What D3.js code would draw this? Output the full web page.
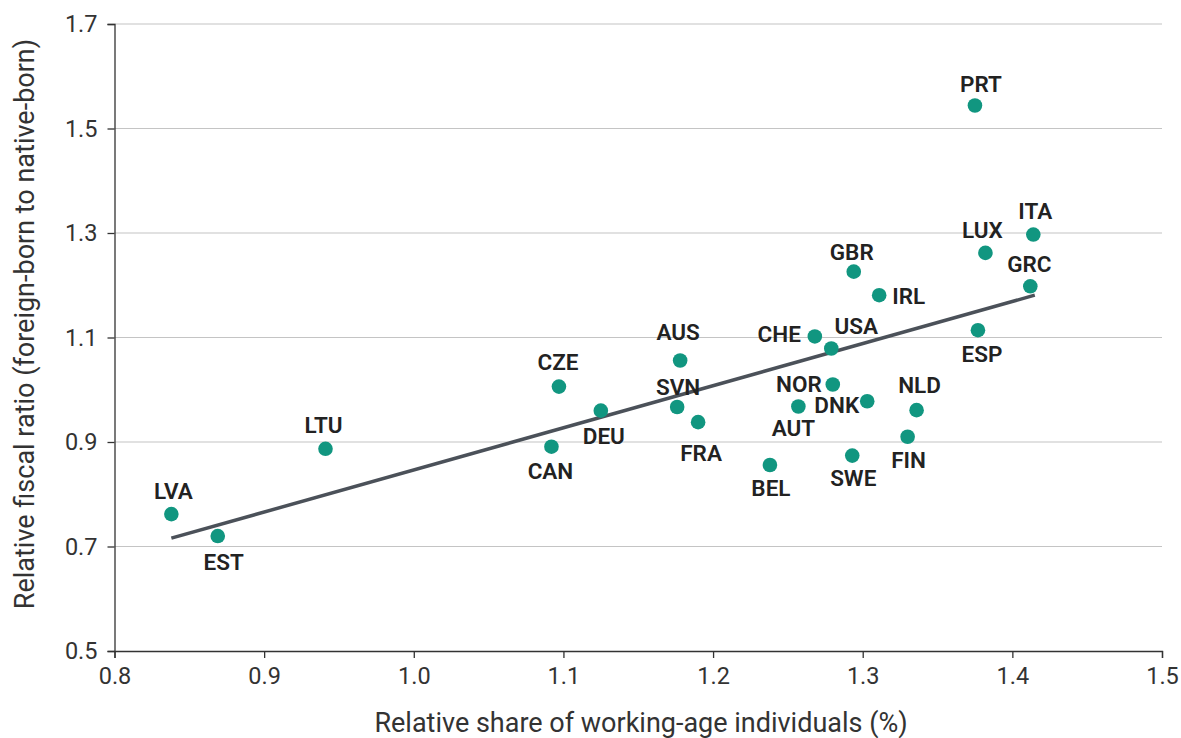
<!DOCTYPE html>
<html>
<head>
<meta charset="utf-8">
<script src="https://cdn.jsdelivr.net/npm/d3@7"></script>
<style>
	body { margin: 0; background: #fff; }
	svg { display: block; font-family: Roboto, "Noto Sans", sans-serif; }
	.tick text { fill: #333; font-size: 23.5px; }
	.lbl { fill: #222; font-size: 22.5px; font-weight: 600; }
</style>
</head>
<body>
<svg id="chart" width="1181" height="738"></svg>
<script>
//countries
var codes = ["LVA","EST","LTU","CZE","DEU","CAN","AUS","SVN","FRA","BEL","CHE","USA","GBR","IRL","NOR","DNK","AUT","NLD","FIN","SWE","ESP","LUX","ITA","GRC","PRT"];
var workShare = [0.838,0.869,0.941,1.097,1.125,1.092,1.178,1.176,1.190,1.238,1.268,1.279,1.294,1.311,1.280,1.303,1.257,1.336,1.330,1.293,1.377,1.382,1.414,1.412,1.375];
var fiscalRatio = [0.762,0.720,0.887,1.006,0.960,0.891,1.056,0.967,0.938,0.856,1.102,1.079,1.226,1.181,1.010,0.978,0.968,0.961,0.910,0.874,1.114,1.262,1.297,1.198,1.544];

//trend line end points
var trendX = [0.838, 1.415];
var trendY = [0.716, 1.181];

//tick labels
var xTicks = [0.8,0.9,1.0,1.1,1.2,1.3,1.4,1.5];
var yTicks = [0.5,0.7,0.9,1.1,1.3,1.5,1.7];

//label placement around each dot
var labelPos = {
	LVA:{dx:2,dy:-15,a:"middle"}, EST:{dx:6,dy:34,a:"middle"}, LTU:{dx:-2,dy:-16,a:"middle"},
	CZE:{dx:-1,dy:-17,a:"middle"}, DEU:{dx:3,dy:33,a:"middle"}, CAN:{dx:-1,dy:32,a:"middle"},
	AUS:{dx:-2,dy:-20,a:"middle"}, SVN:{dx:1,dy:-12,a:"middle"}, FRA:{dx:3,dy:39,a:"middle"},
	BEL:{dx:1,dy:31,a:"middle"}, CHE:{dx:-14,dy:6,a:"end"}, USA:{dx:25,dy:-14,a:"middle"},
	GBR:{dx:-2,dy:-12,a:"middle"}, IRL:{dx:13,dy:9,a:"start"}, NOR:{dx:-11,dy:7,a:"end"},
	DNK:{dx:-8,dy:12,a:"end"}, AUT:{dx:-5,dy:30,a:"middle"}, NLD:{dx:3,dy:-17,a:"middle"},
	FIN:{dx:1,dy:31,a:"middle"}, SWE:{dx:1,dy:30,a:"middle"}, ESP:{dx:4,dy:32,a:"middle"},
	LUX:{dx:-3,dy:-15,a:"middle"}, ITA:{dx:2,dy:-16,a:"middle"}, GRC:{dx:-1,dy:-14,a:"middle"},
	PRT:{dx:6,dy:-14,a:"middle"}
};

var margin = {top: 24, right: 19, bottom: 87, left: 114.5};
var width = 1181 - margin.left - margin.right;
var height = 738 - margin.top - margin.bottom;

var svg = d3.select("#chart");
var g = svg.append("g").attr("transform","translate("+margin.left+","+margin.top+")");

var x = d3.scaleLinear().domain([0.8,1.5]).range([0,width]);
var y = d3.scaleLinear().domain([0.5,1.7]).range([height,0]);

//grid
g.append("g").selectAll("line")
	.data(yTicks.filter(function(d) { return d > 0.5; }))
	.enter().append("line")
	.attr("x1",0).attr("x2",width)
	.attr("y1",function(d) { return y(d); }).attr("y2",function(d) { return y(d); })
	.attr("stroke","#c4c4c4").attr("stroke-width",1.2);

//axes
var xAxis = g.append("g").attr("transform","translate(0,"+height+")")
	.call(d3.axisBottom(x).tickValues(xTicks).tickFormat(d3.format(".1f")).tickSize(7).tickPadding(9));
var yAxis = g.append("g")
	.call(d3.axisLeft(y).tickValues(yTicks).tickFormat(d3.format(".1f")).tickSize(7).tickPadding(10));
[xAxis,yAxis].forEach(function(a) {
	a.select(".domain").attr("stroke","#333").attr("stroke-width",1.3);
	a.selectAll(".tick line").attr("stroke","#333").attr("stroke-width",1.3);
	a.attr("font-family",null).attr("font-size",null);
});

//trend
g.append("line")
	.attr("x1",x(trendX[0])).attr("y1",y(trendY[0]))
	.attr("x2",x(trendX[1])).attr("y2",y(trendY[1]))
	.attr("stroke","#4b5159").attr("stroke-width",3.5);

//dots
var pts = codes.map(function(c,i) { return {code:c, x:workShare[i], y:fiscalRatio[i]}; });
g.append("g").selectAll("circle").data(pts).enter().append("circle")
	.attr("cx",function(d) { return x(d.x); })
	.attr("cy",function(d) { return y(d.y); })
	.attr("r",7.3)
	.attr("fill","#119680");

g.append("g").selectAll("text").data(pts).enter().append("text")
	.attr("class","lbl")
	.attr("x",function(d) { return x(d.x) + labelPos[d.code].dx; })
	.attr("y",function(d) { return y(d.y) + labelPos[d.code].dy; })
	.attr("text-anchor",function(d) { return labelPos[d.code].a; })
	.text(function(d) { return d.code; });

//axis titles
svg.append("text")
	.attr("x",641).attr("y",732)
	.attr("text-anchor","middle")
	.attr("fill","#333").attr("font-size",27)
	.text("Relative share of working-age individuals (%)");
svg.append("text")
	.attr("transform","translate(34,324) rotate(-90)")
	.attr("text-anchor","middle")
	.attr("fill","#333").attr("font-size",27)
	.text("Relative fiscal ratio (foreign-born to native-born)");
</script>
</body>
</html>
